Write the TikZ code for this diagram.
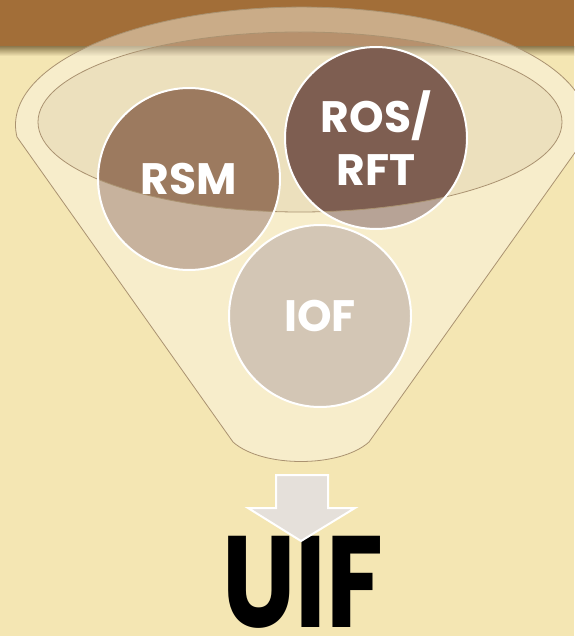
\documentclass[tikz,border=0pt]{standalone}
\usepackage{fontspec}
\setmainfont{Poppins}
\definecolor{bgc}{RGB}{244,230,179}
\definecolor{bandc}{RGB}{162,110,56}
\definecolor{bandshadow}{RGB}{150,132,88}
\definecolor{creamc}{RGB}{251,246,232}
\definecolor{innerc}{RGB}{223,213,209}
\definecolor{rimc}{RGB}{170,146,112}
\definecolor{rsmc}{RGB}{156,122,95}
\definecolor{rosc}{RGB}{126,94,81}
\definecolor{iofc}{RGB}{211,198,181}
\definecolor{arrowc}{RGB}{229,224,218}
\begin{document}
\begin{tikzpicture}[x=1pt,y=-1pt,
  ball/.style={circle,minimum size=182pt,inner sep=0pt},
  ring/.style={draw=white,line width=2pt},
  lbl/.style={text=white,font=\fontsize{44}{53}\selectfont\bfseries,align=center}]
% Define funnel and its mouth
\def\funnel{(17,137) arc[start angle=174.2,end angle=365.8,x radius=286,y radius=118] -- (369,442) .. controls (340,468) and (262,468) .. (233,442) -- cycle}
\def\mouth{(300,122) ellipse [x radius=262,y radius=90]}

\useasboundingbox (0,0) rectangle (574,636);

% Background and top band
\fill[bgc] (0,0) rectangle (574,636);
\fill[bandc] (0,0) rectangle (574,47);
\shade[top color=bandshadow,bottom color=bgc] (0,47) rectangle (574,56);

% Mouth of the funnel
\fill[innerc,opacity=0.35] \mouth;

% Circles poured in
\node[ball,fill=rsmc] (rsm) at (189,179) {};
\node[ball,fill=rosc] (ros) at (376,138) {};

% Funnel body over the circles
\fill[creamc,opacity=0.46,even odd rule] \funnel \mouth;
\draw[rimc,line width=0.8pt] \funnel;
\draw[rimc,line width=0.8pt] \mouth;

% Rings and labels
\draw[ring] (rsm.center) circle (91);
\draw[ring] (ros.center) circle (91);
\node[lbl] (rsmtext) at (rsm) {RSM};
\node[lbl] (rostext) at (ros) {ROS/\\RFT};
\node[ball,ring,fill=iofc] (iof) at (320,316) {};
\node[lbl] (ioftext) at (iof) {IOF};

% Result
\node[font=\fontsize{130}{130}\selectfont\bfseries,anchor=base,inner sep=0pt] (uif) at (303,627) {\scalebox{0.8}[1]{UIF}};
\draw[fill=arrowc,draw=white,line width=2pt] (276,475) -- (328,475) -- (328,508) -- (355,508) -- (301,541) -- (248,508) -- (276,508) -- cycle;
\end{tikzpicture}
\end{document}
